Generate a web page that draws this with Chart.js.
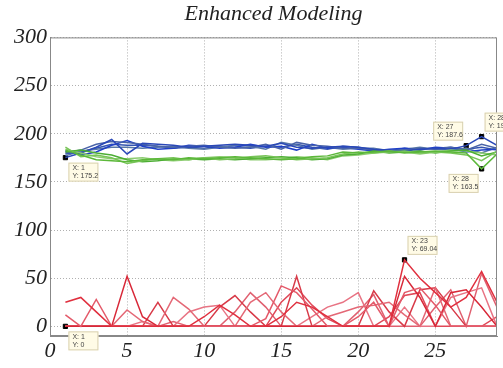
<!DOCTYPE html>
<html lang="en">
<head>
    <meta charset="UTF-8">
    <title>Enhanced Modeling</title>
    <script src="https://cdn.jsdelivr.net/npm/chart.js"></script>
    <style>
        html, body { margin: 0; padding: 0; background: #fff; }
        #wrap { width: 503px; height: 368px; }
    </style>
</head>
<body>
<div id="wrap"><canvas id="modelChart"></canvas></div>
<script>
    // sample index (x) and tick values
    const xValues = [1, 2, 3, 4, 5, 6, 7, 8, 9, 10, 11, 12, 13, 14, 15, 16, 17, 18, 19, 20, 21, 22, 23, 24, 25, 26, 27, 28, 29];
    const xTicks = [0, 5, 10, 15, 20, 25];
    const yTicks = [0, 50, 100, 150, 200, 250, 300];

    // blue runs
    const blue1 = [175.2, 180, 186, 194, 179, 190, 189, 188, 186, 187, 188, 189, 188, 187, 190, 186, 185, 186, 187, 186, 184, 183, 182, 184, 185, 184, 187.6, 197, 188];
    const blue2 = [180, 183, 189, 192, 191, 189, 187, 186, 187, 188, 186, 185, 186, 189, 184, 191, 188, 187, 185, 185, 183, 181, 183, 185, 184, 186, 183, 189, 185];
    const blue3 = [182, 178, 181, 188, 193, 187, 184, 185, 188, 187, 185, 186, 189, 186, 187, 183, 189, 185, 186, 184, 182, 184, 185, 183, 186, 185, 181, 183, 184];
    const blue4 = [177, 182, 184, 186, 186, 185, 186, 187, 185, 184, 186, 188, 187, 184, 191, 188, 184, 186, 184, 185, 185, 182, 184, 186, 184, 183, 185, 180, 186];
    const blue5 = [179, 181, 185, 189, 188, 188, 187, 185, 186, 185, 187, 186, 185, 187, 186, 189, 186, 184, 187, 186, 183, 182, 185, 184, 185, 186, 184, 186, 183];

    // green runs
    const green1 = [183, 178, 173, 172, 171, 173, 174, 173, 175, 174, 175, 176, 175, 174, 173, 174, 176, 177, 181, 180, 181, 182, 180, 181, 182, 181, 180, 163.5, 179];
    const green2 = [186, 176, 178, 175, 169, 172, 174, 175, 173, 175, 173, 174, 176, 177, 175, 173, 174, 175, 179, 181, 180, 181, 182, 180, 181, 180, 178, 172, 182];
    const green3 = [181, 183, 180, 178, 173, 171, 172, 174, 174, 173, 174, 173, 174, 175, 176, 175, 173, 174, 178, 179, 182, 180, 181, 182, 180, 182, 183, 177, 181];
    const green4 = [184, 180, 176, 174, 174, 175, 173, 172, 173, 175, 176, 175, 173, 173, 174, 176, 175, 173, 177, 178, 180, 182, 181, 179, 181, 183, 182, 180, 178];

    // red runs
    const red1 = [25, 30, 15, 0, 0, 0, 0, 0, 0, 10, 22, 12, 0, 0, 10, 25, 20, 10, 0, 0, 0, 0, 69.04, 50, 35, 20, 30, 57, 25];
    const red2 = [12, 0, 28, 0, 0, 0, 0, 0, 0, 0, 0, 0, 0, 8, 42, 35, 18, 0, 0, 10, 25, 0, 35, 40, 22, 0, 0, 0, 0];
    const red3 = [0, 0, 0, 0, 52, 10, 0, 0, 0, 0, 0, 0, 0, 0, 0, 0, 0, 0, 0, 0, 0, 0, 52, 30, 0, 35, 38, 20, 0];
    const red4 = [0, 0, 0, 0, 17, 5, 0, 30, 18, 0, 0, 0, 25, 35, 15, 0, 0, 10, 15, 20, 22, 25, 12, 0, 40, 0, 0, 0, 0];
    const red5 = [0, 0, 0, 0, 0, 0, 25, 0, 0, 0, 20, 32, 15, 0, 0, 52, 0, 0, 0, 0, 37, 15, 0, 38, 40, 20, 0, 0, 0];
    const red6 = [0, 0, 0, 0, 0, 5, 0, 0, 15, 20, 22, 0, 0, 0, 0, 0, 10, 20, 25, 35, 0, 0, 20, 0, 0, 30, 35, 40, 0];
    const red7 = [0, 0, 0, 0, 0, 0, 0, 0, 0, 0, 0, 0, 0, 0, 25, 40, 22, 8, 0, 0, 0, 10, 32, 35, 0, 0, 0, 0, 10];
    const red8 = [0, 0, 0, 0, 0, 0, 0, 5, 0, 0, 0, 15, 35, 20, 0, 0, 0, 0, 0, 15, 33, 0, 0, 0, 20, 38, 0, 55, 20];

    // data tips
    const tipX = [1, 27, 28, 28, 23, 1];
    const tipY = [175.2, 187.6, 197, 163.5, 69.04, 0];
    const tipText = [['X: 1', 'Y: 175.2'], ['X: 27', 'Y: 187.6'], ['X: 28', 'Y: 197'], ['X: 28', 'Y: 163.5'], ['X: 23', 'Y: 69.04'], ['X: 1', 'Y: 0']];
    const tipSide = ['br', 'tl', 'tr', 'bl', 'tr', 'br'];

    function series(values, color) {
        return {
            data: values.map((v, i) => ({ x: xValues[i], y: v })),
            borderColor: color,
            borderWidth: 1.5,
            pointRadius: 0,
            fill: false,
            tension: 0
        };
    }

    const datasets = [
        series(red1, '#e0303f'), series(red2, '#e45a6a'), series(red3, '#d82838'), series(red4, '#e46876'),
        series(red5, '#d83a48'), series(red6, '#e87484'), series(red7, '#e04858'), series(red8, '#e06070'),
        series(green1, '#5cb83a'), series(green2, '#78c458'), series(green3, '#4cae34'), series(green4, '#8ccc70'),
        series(blue1, '#2a48b8'), series(blue2, '#4a64a8'), series(blue3, '#2040c8'), series(blue4, '#5878a8'), series(blue5, '#3454b0'),
        {
            type: 'scatter',
            data: tipX.map((x, i) => ({ x: x, y: tipY[i] })),
            pointStyle: 'rect',
            pointRadius: 3,
            backgroundColor: '#000',
            borderColor: '#000'
        }
    ];

    const frameAndTips = {
        id: 'frameAndTips',
        afterDraw(chart) {
            const { ctx, chartArea: a, scales } = chart;
            ctx.save();
            ctx.strokeStyle = '#888';
            ctx.lineWidth = 1;
            ctx.strokeRect(a.left + 0.5, a.top + 0.5, a.right - a.left - 1, a.bottom - a.top - 1);
            ctx.font = '7px "Liberation Sans", Arial, sans-serif';
            ctx.textBaseline = 'middle';
            tipX.forEach((x, i) => {
                const px = scales.x.getPixelForValue(x);
                const py = scales.y.getPixelForValue(tipY[i]);
                const w = 30, h = 19;
                const s = tipSide[i];
                const bx = s[1] === 'r' ? px + 3 : px - w - 3;
                const by = s[0] === 'b' ? py + 5 : py - h - 5;
                ctx.fillStyle = '#fffbe6';
                ctx.strokeStyle = '#d8d0b0';
                ctx.fillRect(bx, by, w, h);
                ctx.strokeRect(bx + 0.5, by + 0.5, w - 1, h - 1);
                ctx.fillStyle = '#444';
                ctx.textAlign = 'left';
                ctx.fillText(tipText[i][0], bx + 4, by + 5.5);
                ctx.fillText(tipText[i][1], bx + 4, by + 13.5);
            });
            ctx.restore();
        }
    };

    const tickFont = { family: '"Liberation Serif", "Times New Roman", serif', size: 22, style: 'italic' };

    new Chart(document.getElementById('modelChart'), {
        type: 'line',
        data: { datasets: datasets },
        options: {
            responsive: true,
            maintainAspectRatio: false,
            animation: false,
            layout: { padding: { top: 0, right: 6, bottom: 0, left: 0 } },
            plugins: {
                legend: { display: false },
                tooltip: { enabled: false },
                title: {
                    display: true,
                    text: 'Enhanced Modeling',
                    fullSize: false,
                    color: '#222',
                    font: { family: '"Liberation Serif", "Times New Roman", serif', size: 22, style: 'italic', weight: 'normal' },
                    padding: { top: 1, bottom: 10 }
                }
            },
            scales: {
                x: {
                    type: 'linear',
                    min: 0,
                    max: 29,
                    afterBuildTicks: s => { s.ticks = xTicks.map(v => ({ value: v })); },
                    afterFit: s => { s.height = 32; },
                    ticks: { font: tickFont, color: '#222', padding: 2, maxRotation: 0 },
                    grid: { color: '#b0b0b0', drawTicks: false },
                    border: { color: '#888', dash: [1, 2] }
                },
                y: {
                    min: -10,
                    max: 300,
                    afterBuildTicks: s => { s.ticks = yTicks.map(v => ({ value: v })); },
                    afterFit: s => { s.width = 50; },
                    ticks: { font: tickFont, color: '#222', padding: 3 },
                    grid: { color: '#b0b0b0', drawTicks: false },
                    border: { color: '#888', dash: [1, 2] }
                }
            }
        },
        plugins: [frameAndTips]
    });
</script>
</body>
</html>
